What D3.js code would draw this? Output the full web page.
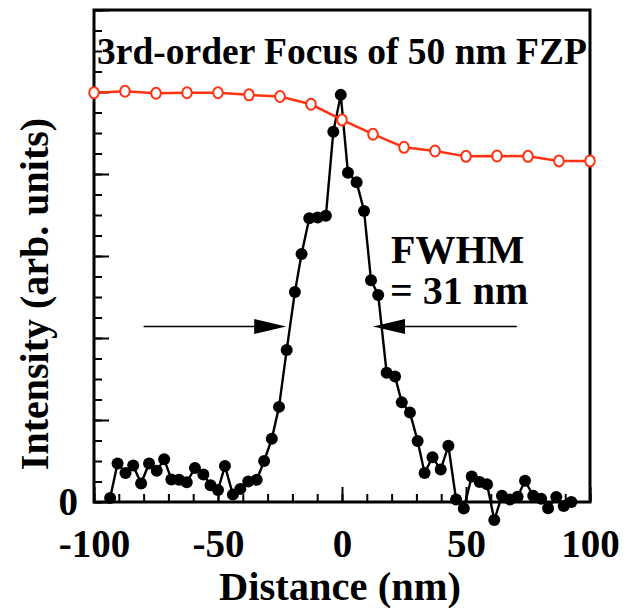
<!DOCTYPE html>
<html>
<head>
<meta charset="utf-8">
<script src="https://cdn.jsdelivr.net/npm/d3@7"></script>
<style>
  body { margin: 0; background: #fff; }
  text { font-family: "Liberation Serif", "Times New Roman", serif; font-weight: bold; }
</style>
</head>
<body>
<script>
var width = 632, height = 608
var margin = {top: 10, right: 42, bottom: 106, left: 94}

// measured profile (black dots)
var distance = [-93.5, -90.5, -87.3, -84.2, -81.0, -77.8, -74.7, -71.7, -68.8, -65.7,
  -62.6, -59.3, -55.9, -53.0, -50.0, -47.2, -44.0, -41.0, -37.8, -34.4,
  -31.4, -28.3, -25.4, -22.3, -19.0, -16.3, -13.2, -9.8, -6.5, -3.5,
  -0.5, 2.4, 5.9, 8.9, 11.7, 14.6, 18.0, 21.4, 24.1, 27.4,
  30.5, 33.3, 36.5, 39.8, 42.9, 46.0, 49.1, 52.3, 55.5, 58.5,
  61.4, 64.5, 67.7, 70.8, 73.8, 77.1, 80.3, 83.1, 86.4, 89.4, 92.5]
var intensity = [0.010, 0.094, 0.071, 0.089, 0.045, 0.094, 0.076, 0.104, 0.055, 0.054,
  0.048, 0.083, 0.067, 0.041, 0.029, 0.088, 0.018, 0.032, 0.050, 0.054,
  0.100, 0.154, 0.232, 0.371, 0.512, 0.605, 0.692, 0.694, 0.698, 0.903,
  0.993, 0.803, 0.780, 0.710, 0.541, 0.505, 0.315, 0.306, 0.243, 0.218,
  0.149, 0.071, 0.109, 0.079, 0.137, 0.006, -0.016, 0.062, 0.049, 0.043,
  -0.044, 0.015, 0.006, 0.013, 0.052, 0.015, 0.008, -0.015, 0.012, -0.010, 0.000]

// red reference curve (open circles)
var refDistance = [-100, -87.5, -75, -62.5, -50, -37.5, -25, -12.5, 0,
  12.5, 25, 37.5, 50, 62.5, 75, 87.5, 100]
var refIntensity = [0.998, 1.002, 0.997, 0.998, 0.998, 0.993, 0.989, 0.970, 0.932,
  0.897, 0.865, 0.856, 0.843, 0.844, 0.843, 0.832, 0.832]

var xTickLabels = [-100, -50, 0, 50, 100]
var yTickLabels = [0]

var x = d3.scaleLinear()
    .domain([-100, 100])
    .range([margin.left, width - margin.right])

var y = d3.scaleLinear()
    .domain([0, 1.2])
    .range([height - margin.bottom, margin.top])

var svg = d3.select("body").append("svg")
    .attr("width", width)
    .attr("height", height)

// AXES - minor ticks
svg.append("g")
    .attr("transform", "translate(0," + y(0) + ")")
    .call(d3.axisBottom(x).tickValues(d3.range(-100, 101, 10)).tickSize(-8).tickFormat(""))
svg.append("g")
    .attr("transform", "translate(" + x(-100) + ",0)")
    .call(d3.axisLeft(y).tickValues(d3.range(0, 1.21, 0.05)).tickSize(-8).tickFormat(""))

// AXES - major ticks + labels (plain hyphen for minus)
var xAxis = svg.append("g")
    .attr("transform", "translate(0," + y(0) + ")")
    .call(d3.axisBottom(x).tickValues(xTickLabels).tickSize(-15).tickPadding(27)
      .tickFormat(function(d) { return String(d) }))
var yAxis = svg.append("g")
    .attr("transform", "translate(" + x(-100) + ",0)")
    .call(d3.axisLeft(y).tickValues(d3.range(0, 1.21, 0.2)).tickSize(-15).tickPadding(16)
      .tickFormat(function(d) { return yTickLabels.indexOf(Math.round(d * 100) / 100) >= 0 ? String(d) : "" }))

svg.selectAll(".domain").remove()
svg.selectAll(".tick line").attr("stroke", "#000").attr("stroke-width", 2)
svg.selectAll(".tick text")
    .attr("font-size", 39)
    .attr("fill", "#000")
    .style("font-family", "'Liberation Serif', 'Times New Roman', serif")
    .style("font-weight", "bold")

// FRAME
svg.append("rect")
    .attr("x", x(-100))
    .attr("y", y(1.2))
    .attr("width", x(100) - x(-100))
    .attr("height", y(0) - y(1.2))
    .attr("fill", "none")
    .attr("stroke", "#000")
    .attr("stroke-width", 3)

// BLACK PROFILE
var profile = distance.map(function(d, i) { return {d: d, v: intensity[i]} })

svg.append("path")
    .datum(profile)
    .attr("fill", "none")
    .attr("stroke", "#000")
    .attr("stroke-width", 2.4)
    .attr("d", d3.line().x(function(p) { return x(p.d) }).y(function(p) { return y(p.v) }))

svg.selectAll(".dot")
    .data(profile)
  .enter().append("circle")
    .attr("class", "dot")
    .attr("cx", function(p) { return x(p.d) })
    .attr("cy", function(p) { return y(p.v) })
    .attr("r", 6)
    .attr("fill", "#000")

// RED CURVE
var ref = refDistance.map(function(d, i) { return {d: d, v: refIntensity[i]} })

svg.append("path")
    .datum(ref)
    .attr("fill", "none")
    .attr("stroke", "#ff3311")
    .attr("stroke-width", 2.5)
    .attr("d", d3.line().x(function(p) { return x(p.d) }).y(function(p) { return y(p.v) }))

svg.selectAll(".ring")
    .data(ref)
  .enter().append("ellipse")
    .attr("class", "ring")
    .attr("cx", function(p) { return x(p.d) })
    .attr("cy", function(p) { return y(p.v) })
    .attr("rx", 4.8)
    .attr("ry", 5.5)
    .attr("fill", "#fff")
    .attr("stroke", "#ff3311")
    .attr("stroke-width", 2)

// FWHM ARROWS
var arrowY = 326.5
svg.append("line")
    .attr("x1", x(-80)).attr("x2", x(-30))
    .attr("y1", arrowY).attr("y2", arrowY)
    .attr("stroke", "#000").attr("stroke-width", 1.5)
svg.append("path")
    .attr("d", "M" + x(-22.5) + "," + arrowY + "L" + (x(-22.5) - 32) + "," + (arrowY - 7.5) + "L" + (x(-22.5) - 32) + "," + (arrowY + 7.5) + "Z")
    .attr("fill", "#000")
svg.append("line")
    .attr("x1", x(20)).attr("x2", x(70.5))
    .attr("y1", arrowY).attr("y2", arrowY)
    .attr("stroke", "#000").attr("stroke-width", 1.5)
svg.append("path")
    .attr("d", "M" + x(12.5) + "," + arrowY + "L" + (x(12.5) + 32) + "," + (arrowY - 7.5) + "L" + (x(12.5) + 32) + "," + (arrowY + 7.5) + "Z")
    .attr("fill", "#000")

// TEXTS
svg.append("text")
    .text("3rd-order Focus of 50 nm FZP")
    .attr("x", (x(-100) + x(100)) / 2)
    .attr("y", 64)
    .attr("text-anchor", "middle")
    .attr("font-size", 37.5)

svg.append("text")
    .text("FWHM")
    .attr("x", 391)
    .attr("y", 263)
    .attr("font-size", 40)

svg.append("text")
    .text("= 31 nm")
    .attr("x", 390)
    .attr("y", 304)
    .attr("font-size", 40)

svg.append("text")
    .text("Distance (nm)")
    .attr("x", 340)
    .attr("y", 600)
    .attr("text-anchor", "middle")
    .attr("font-size", 40.5)

svg.append("text")
    .text("Intensity (arb. units)")
    .attr("transform", "translate(48,294) rotate(-90)")
    .attr("text-anchor", "middle")
    .attr("font-size", 40)
</script>
</body>
</html>
